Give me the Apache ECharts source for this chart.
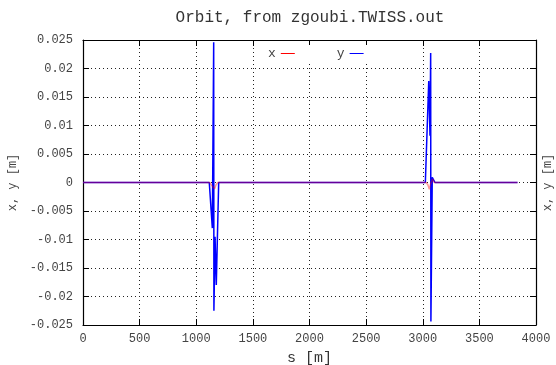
<!DOCTYPE html>
<html>
<head>
<meta charset="utf-8">
<script src="https://cdn.jsdelivr.net/npm/echarts@6/dist/echarts.min.js"></script>
<style>html,body{margin:0;padding:0;background:#fff}#c{width:556px;height:365px}</style>
</head>
<body>
<div id="c"></div>
<script>
// s positions [m] and orbit values [m]
var sX = [0, 1120, 1135, 1150, 1162, 1175, 1190, 3030, 3045, 3058, 3070, 3088, 3100, 3837];
var xVals = [0, 0, -0.0005, -0.0003, -0.0011, -0.0004, 0, 0, -0.0004, -0.0012, -0.0002, 0.0006, 0, 0];
var sY = [0, 1115, 1142, 1154, 1156, 1166, 1177, 1198, 3023, 3053, 3064, 3070, 3072, 3084, 3108, 3837];
var yVals = [0, 0, -0.008, 0.0246, -0.0225, -0.0095, -0.018, 0, 0, 0.0178, 0.0082, 0.0227, -0.0244, 0.0009, 0, 0];
var xTicks = [0, 500, 1000, 1500, 2000, 2500, 3000, 3500, 4000];
var yTicks = [-0.025, -0.02, -0.015, -0.01, -0.005, 0, 0.005, 0.01, 0.015, 0.02, 0.025];

var font = 'Liberation Mono';
function pairs(a, b) { return a.map(function (v, i) { return [v, b[i]]; }); }

var chart = echarts.init(document.getElementById('c'));
var axisLine = { show: true, onZero: false, lineStyle: { color: '#000', width: 1.2 } };
var splitLine = { show: true, lineStyle: { color: '#222', type: [1, 3], width: 1 } };
chart.setOption({
  animation: false,
  backgroundColor: '#fff',
  title: {
    text: 'Orbit, from zgoubi.TWISS.out',
    left: 305, top: 5, textAlign: 'center',
    textStyle: { fontFamily: font, fontSize: 16, fontWeight: 'normal', color: '#333' }
  },
  legend: {
    left: 262, top: 45, align: 'right', itemGap: 42, itemWidth: 14, itemHeight: 8,
    backgroundColor: '#fff', padding: [2, 6, 2, 6],
    textStyle: { fontFamily: font, fontSize: 13, color: '#444' },
    data: [
      { name: 'x', icon: 'path://M0,0L14,0L14,1L0,1Z', itemStyle: { color: '#ff0000', opacity: 1 } },
      { name: 'y', icon: 'path://M0,0L14,0L14,1L0,1Z', itemStyle: { color: '#0000ff' } }
    ]
  },
  grid: { left: 83, top: 40, width: 453, height: 285, containLabel: false, outerBoundsMode: 'none' },
  xAxis: [
    {
      type: 'value', min: 0, max: 4000, interval: 500, position: 'bottom',
      name: 's [m]', nameLocation: 'middle', nameGap: 26,
      nameTextStyle: { fontFamily: font, fontSize: 15, color: '#333' },
      axisLine: axisLine,
      axisTick: { show: true, inside: true, length: 6, lineStyle: { color: '#000' } },
      axisLabel: { fontFamily: font, fontSize: 12, color: '#444', margin: 8,
        formatter: function (v) { return xTicks.indexOf(v) >= 0 ? String(v) : ''; } },
      splitLine: splitLine
    },
    {
      type: 'value', min: 0, max: 4000, interval: 500, position: 'top',
      axisLine: axisLine,
      axisTick: { show: true, inside: true, length: 6, lineStyle: { color: '#000' } },
      axisLabel: { show: false }, splitLine: { show: false }
    }
  ],
  yAxis: [
    {
      type: 'value', min: -0.025, max: 0.025, interval: 0.005, position: 'left',
      name: 'x, y [m]', nameLocation: 'middle', nameGap: 54, nameRotate: 90,
      nameTextStyle: { fontFamily: font, fontSize: 12, color: '#444' },
      axisLine: axisLine,
      axisTick: { show: true, inside: true, length: 6, lineStyle: { color: '#000' } },
      axisLabel: { fontFamily: font, fontSize: 12, color: '#444', margin: 10,
        formatter: function (v) { var r = Math.round(v * 1000) / 1000; return String(r); } },
      splitLine: splitLine
    },
    {
      type: 'value', min: -0.025, max: 0.025, interval: 0.005, position: 'right',
      name: 'x, y [m]', nameLocation: 'middle', nameGap: 6, nameRotate: 90,
      nameTextStyle: { fontFamily: font, fontSize: 12, color: '#444' },
      axisLine: axisLine,
      axisTick: { show: true, inside: true, length: 6, lineStyle: { color: '#000' } },
      axisLabel: { show: false }, splitLine: { show: false }
    }
  ],
  series: [
    {
      name: 'y', type: 'line', data: pairs(sY, yVals), symbol: 'none', z: 2,
      lineStyle: { color: '#0000ff', width: 1.5 }, itemStyle: { color: '#0000ff' }
    },
    {
      name: 'x', type: 'line', data: pairs(sX, xVals), symbol: 'none', z: 3,
      lineStyle: { color: '#ff0000', width: 1.5, opacity: 0.4 }, itemStyle: { color: '#ff0000' }
    }
  ]
});
</script>
</body>
</html>
